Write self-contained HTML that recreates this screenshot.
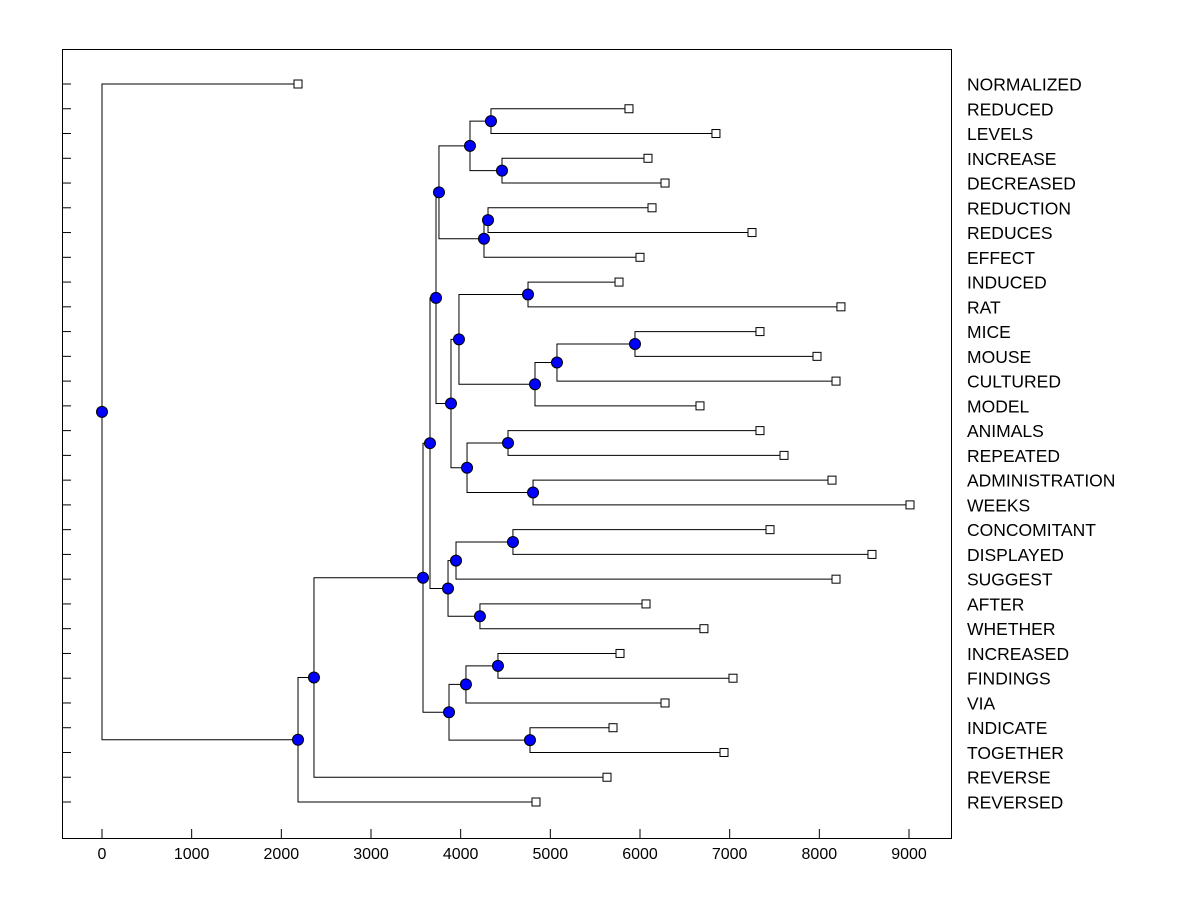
<!DOCTYPE html>
<html><head><meta charset="utf-8"><style>
body{margin:0;background:#fff}
svg{display:block;font-family:"Liberation Sans",Arial,sans-serif}
</style></head><body>
<svg id="chart" width="1200" height="900" viewBox="0 0 1200 900">
<rect x="62.5" y="49.5" width="889" height="789" fill="#fff" stroke="#000" stroke-width="1"/>
<g id="links"></g>
<g id="marks"></g>
<g id="axis"></g>
<g id="labels"></g>
</svg>
<script>
const leafNames=["NORMALIZED","REDUCED","LEVELS","INCREASE","DECREASED","REDUCTION","REDUCES","EFFECT","INDUCED","RAT","MICE","MOUSE","CULTURED","MODEL","ANIMALS","REPEATED","ADMINISTRATION","WEEKS","CONCOMITANT","DISPLAYED","SUGGEST","AFTER","WHETHER","INCREASED","FINDINGS","VIA","INDICATE","TOGETHER","REVERSE","REVERSED"];
const leafValues=[2186,5877,6847,6089,6279,6134,7249,6000,5766,8241,7338,7974,8186,6669,7338,7606,8141,9011,7450,8587,8186,6067,6713,5777,7037,6279,5699,6937,5632,4840];
const mergeLeft=[1,3,30,5,33,32,8,10,37,38,36,14,16,41,40,35,18,46,21,47,45,23,51,26,52,50,55,56,0];
const mergeRight=[2,4,31,6,7,34,9,11,12,13,39,15,17,42,43,44,19,20,22,48,49,24,25,27,53,54,28,29,57];
const mergeHeight=[4338,4461,4104,4305,4260,3758,4751,5944,5074,4829,3981,4528,4807,4071,3892,3725,4583,3948,4215,3859,3658,4416,4059,4773,3870,3580,2364,2186,0];
const xTicks=[0,1000,2000,3000,4000,5000,6000,7000,8000,9000];

const NS="http://www.w3.org/2000/svg";
const X=v=>102+v*(807/9000);
const Y=i=>84+i*(718/29);
function mk(tag,attrs,parent){const e=document.createElementNS(NS,tag);for(const k in attrs)e.setAttribute(k,attrs[k]);document.getElementById(parent).appendChild(e);return e;}
const nx=[],ny=[];
leafValues.forEach((v,i)=>{nx[i]=X(v);ny[i]=Y(i);});
const n=leafValues.length;
mergeHeight.forEach((h,k)=>{
  const a=mergeLeft[k],b=mergeRight[k],id=n+k,x=X(h);
  nx[id]=x;ny[id]=(ny[a]+ny[b])/2;
  const p=mk('path',{d:`M${nx[a]},${ny[a]}H${x}V${ny[b]}H${nx[b]}`,fill:'none',stroke:'#000','stroke-width':1},'links');
  
  
});
leafValues.forEach((v,i)=>{
  const r=mk('rect',{x:nx[i]-4,y:ny[i]-4,width:8,height:8,fill:'#fff',stroke:'#000','stroke-width':1},'marks');
  
  
  const t=mk('line',{x1:62,x2:71,y1:ny[i],y2:ny[i],stroke:'#000'},'axis');
  
  
  const l=mk('text',{x:967,y:ny[i]+6.5,'font-size':17.5,fill:'#000'},'labels');
  l.textContent=leafNames[i];
  
  
});
mergeHeight.forEach((h,k)=>{
  const id=n+k;
  const c=mk('circle',{cx:nx[id],cy:ny[id],r:5.5,fill:'#0000ff',stroke:'#000','stroke-width':1},'marks');
  
  
});
xTicks.forEach(v=>{
  const t=mk('line',{x1:X(v),x2:X(v),y1:838,y2:829,stroke:'#000'},'axis');
  
  
  const l=mk('text',{x:X(v),y:859,'font-size':16,'text-anchor':'middle',fill:'#000'},'axis');
  l.textContent=v;
  
  
});
</script>
</body></html>
